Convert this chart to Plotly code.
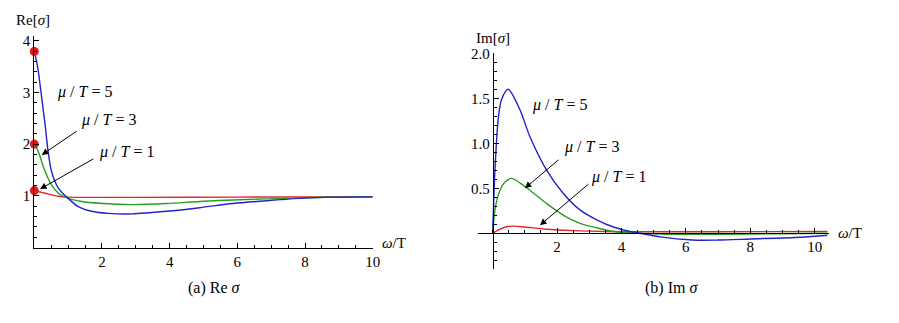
import plotly.graph_objects as go

W, H = 899, 323

# (a) Re sigma
re_blue_x = [0, 0.07, 0.12, 0.22, 0.32, 0.41, 0.51, 0.71, 1.0, 1.3, 1.69, 2.18, 2.9, 3.9, 4.89, 5.87, 6.86, 7.84, 8.8, 10]
re_blue_y = [3.79, 3.59, 3.40, 2.89, 2.37, 1.85, 1.47, 1.15, 0.95, 0.79, 0.70, 0.66, 0.65, 0.70, 0.77, 0.85, 0.905, 0.95, 0.975, 0.98]
re_green_x = [0, 0.12, 0.22, 0.32, 0.51, 0.71, 1.0, 1.4, 1.94, 2.9, 3.9, 4.89, 5.87, 7.84, 8.8, 10]
re_green_y = [2.0, 1.85, 1.66, 1.47, 1.21, 1.05, 0.95, 0.89, 0.855, 0.83, 0.85, 0.89, 0.92, 0.96, 0.975, 0.98]
re_red_x = [0, 0.32, 0.71, 1.0, 1.5, 3, 6, 10]
re_red_y = [1.10, 1.05, 0.99, 0.975, 0.97, 0.97, 0.975, 0.98]
dc_x = [0, 0, 0]
dc_y = [3.79, 2.0, 1.10]

# (b) Im sigma
im_blue_x = [0, 0.07, 0.17, 0.27, 0.48, 0.85, 1.16, 1.68, 2.2, 2.71, 3.23, 3.75, 4.27, 4.6, 5.2, 6.2, 7.0, 8.0, 9.55, 10.4]
im_blue_y = [0, 0.70, 1.26, 1.48, 1.60, 1.37, 1.07, 0.70, 0.44, 0.26, 0.15, 0.07, 0.02, 0.0, -0.04, -0.075, -0.075, -0.063, -0.044, -0.022]
im_green_x = [0, 0.07, 0.23, 0.38, 0.59, 1.0, 1.68, 2.2, 2.71, 3.23, 3.75, 4.5, 5.5, 7, 9, 10.4]
im_green_y = [0, 0.26, 0.48, 0.57, 0.61, 0.52, 0.33, 0.20, 0.11, 0.06, 0.02, 0.0, -0.01, -0.01, -0.005, 0]
im_red_x = [0, 0.2, 0.4, 0.62, 1.0, 1.68, 2.5, 3.5, 5, 7, 10.4]
im_red_y = [0, 0.04, 0.07, 0.08, 0.07, 0.045, 0.03, 0.02, 0.017, 0.018, 0.02]

labels = ["<i>μ</i> / <i>T</i> = 5", "<i>μ</i> / <i>T</i> = 3", "<i>μ</i> / <i>T</i> = 1"]

BLUE = "#2323c8"
GREEN = "#23a023"
RED = "#e02828"
FONT = "Liberation Serif, Times New Roman, serif"
OFF = 8  # page body margin shifts the figure

def px(x):
    return (x - OFF) / W

def py(y):
    return 1 - (y - OFF) / H

fig = go.Figure()
line = dict(width=1.4, shape="spline", smoothing=0.8)
fig.add_scatter(x=re_red_x, y=re_red_y, mode="lines", line=dict(color=RED, **line), xaxis="x", yaxis="y", cliponaxis=False)
fig.add_scatter(x=re_green_x, y=re_green_y, mode="lines", line=dict(color=GREEN, **line), xaxis="x", yaxis="y", cliponaxis=False)
fig.add_scatter(x=re_blue_x, y=re_blue_y, mode="lines", line=dict(color=BLUE, **line), xaxis="x", yaxis="y", cliponaxis=False)
fig.add_scatter(x=dc_x, y=dc_y, mode="markers", marker=dict(color="#dd1c1c", size=9), xaxis="x", yaxis="y", cliponaxis=False)

fig.add_scatter(x=im_red_x, y=im_red_y, mode="lines", line=dict(color=RED, **line), xaxis="x2", yaxis="y2", cliponaxis=False)
fig.add_scatter(x=im_green_x, y=im_green_y, mode="lines", line=dict(color=GREEN, **line), xaxis="x2", yaxis="y2", cliponaxis=False)
fig.add_scatter(x=im_blue_x, y=im_blue_y, mode="lines", line=dict(color=BLUE, **line), xaxis="x2", yaxis="y2", cliponaxis=False)

ax_common = dict(showline=True, linecolor="black", linewidth=1, showgrid=False, zeroline=False,
                 ticks="inside", ticklen=5, tickwidth=1, tickcolor="black", automargin=False,
                 tickfont=dict(family=FONT, size=15, color="black"), tickmode="array")

fig.update_layout(
    template="none",
    width=W, height=H, margin=dict(l=0, r=0, t=0, b=0, pad=0), autosize=False,
    paper_bgcolor="white", plot_bgcolor="rgba(0,0,0,0)", showlegend=False,
    xaxis=dict(domain=[px(34.3), px(372.7)], range=[0, 10], anchor="y",
               tickvals=[2, 4, 6, 8, 10], ticktext=["2", "4", "6", "8", "10"],
               minor=dict(ticks="inside", ticklen=3, dtick=0.5, tick0=0, tickcolor="black", showgrid=False),
               **ax_common),
    yaxis=dict(domain=[py(247.5), py(35.5)], range=[0, 4.1], anchor="x",
               tickvals=[1, 2, 3, 4], ticktext=["1", "2", "3", "4"],
               minor=dict(ticks="inside", ticklen=3, dtick=0.2, tick0=0, tickcolor="black", showgrid=False),
               **ax_common),
    xaxis2=dict(domain=[px(478.2), px(828.8)], range=[-0.45, 10.44], anchor="free", position=py(233.3),
                tickvals=[2, 4, 6, 8, 10], ticktext=["2", "4", "6", "8", "10"],
                minor=dict(ticks="inside", ticklen=3, dtick=0.5, tick0=0, tickcolor="black", showgrid=False),
                **ax_common),
    yaxis2=dict(domain=[py(269.3), py(53.3)], range=[-0.4, 2.0], anchor="free", position=px(492.7),
                tickvals=[0.5, 1.0, 1.5, 2.0], ticktext=["0.5", "1.0", "1.5", "2.0"],
                minor=dict(ticks="inside", ticklen=3, dtick=0.1, tick0=0, tickcolor="black", showgrid=False),
                **ax_common),
)

tfont = dict(family=FONT, size=16, color="black")
ann = []
# left panel labels
ann.append(dict(x=1.47, y=3.01, xref="x", yref="y", text=labels[0], showarrow=False, font=tfont))
ann.append(dict(x=2.19, y=2.46, xref="x", yref="y", text=labels[1], showarrow=False, font=tfont))
ann.append(dict(x=2.73, y=1.85, xref="x", yref="y", text=labels[2], showarrow=False, font=tfont))
ann.append(dict(x=0.22, y=1.79, ax=1.30, ay=2.27, xref="x", yref="y", axref="x", ayref="y", text="",
                showarrow=True, arrowhead=2, arrowsize=1.3, arrowwidth=1, arrowcolor="black"))
ann.append(dict(x=0.17, y=1.13, ax=1.79, ay=1.73, xref="x", yref="y", axref="x", ayref="y", text="",
                showarrow=True, arrowhead=2, arrowsize=1.3, arrowwidth=1, arrowcolor="black"))
# right panel labels
ann.append(dict(x=2.09, y=1.43, xref="x2", yref="y2", text=labels[0], showarrow=False, font=tfont))
ann.append(dict(x=3.07, y=0.96, xref="x2", yref="y2", text=labels[1], showarrow=False, font=tfont))
ann.append(dict(x=3.9, y=0.63, xref="x2", yref="y2", text=labels[2], showarrow=False, font=tfont))
ann.append(dict(x=1.0, y=0.5, ax=2.09, ay=0.83, xref="x2", yref="y2", axref="x2", ayref="y2", text="",
                showarrow=True, arrowhead=2, arrowsize=1.3, arrowwidth=1, arrowcolor="black"))
ann.append(dict(x=1.47, y=0.09, ax=3.02, ay=0.56, xref="x2", yref="y2", axref="x2", ayref="y2", text="",
                showarrow=True, arrowhead=2, arrowsize=1.3, arrowwidth=1, arrowcolor="black"))

# axis titles and captions
afont = dict(family=FONT, size=15, color="black")
cfont = dict(family=FONT, size=16, color="black")
paper_texts = [
    (33, 20, "Re[<i>σ</i>]", afont),
    (493, 38, "Im[<i>σ</i>]", afont),
    (394, 243, "<i>ω</i>/T", afont),
    (850, 233, "<i>ω</i>/T", afont),
    (214, 288, "(a) Re <i>σ</i>", cfont),
    (671, 288, "(b) Im <i>σ</i>", cfont),
]
for x, y, t, f in paper_texts:
    ann.append(dict(x=px(x), y=py(y), xref="paper", yref="paper", text=t, showarrow=False, font=f,
                    xanchor="center", yanchor="middle"))

fig.update_layout(annotations=ann)

fig.write_html("out.html")
